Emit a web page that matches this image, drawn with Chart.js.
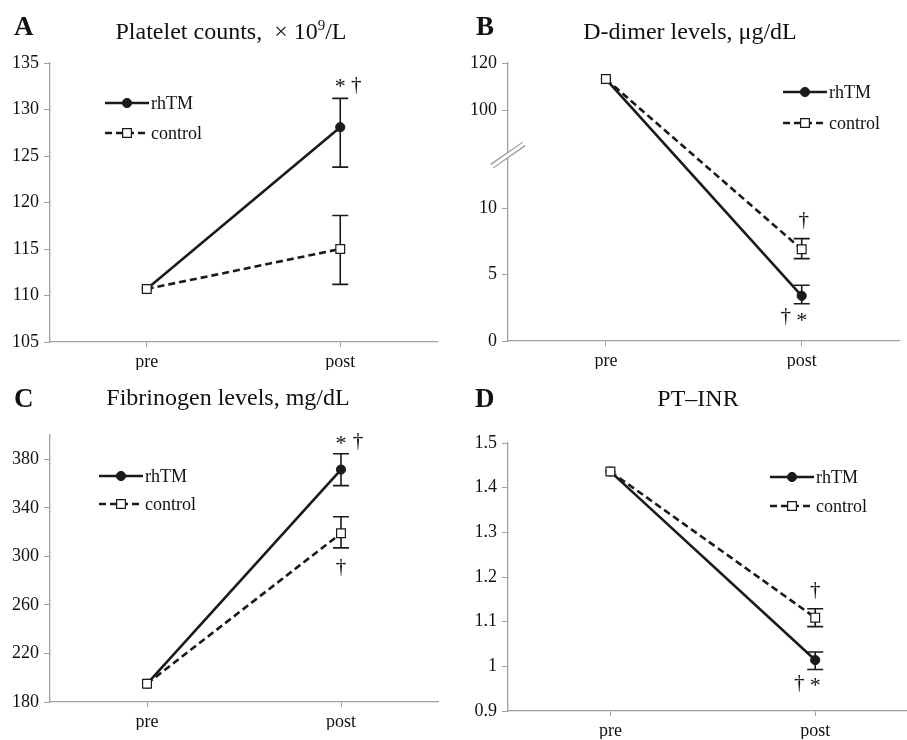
<!DOCTYPE html>
<html>
<head>
<meta charset="utf-8">
<script src="https://cdn.jsdelivr.net/npm/chart.js@4.4.1/dist/chart.umd.min.js"></script>
<style>
  body { margin: 0; background: #fff; width: 907px; height: 740px; overflow: hidden; position: relative; }
  .panel { position: absolute; }
</style>
</head>
<body>
<div class="panel" style="left:0;top:0;width:453px;height:370px"><canvas id="chartA"></canvas></div>
<div class="panel" style="left:455px;top:0;width:452px;height:370px"><canvas id="chartB"></canvas></div>
<div class="panel" style="left:0;top:370px;width:453px;height:370px"><canvas id="chartC"></canvas></div>
<div class="panel" style="left:455px;top:370px;width:470px;height:370px"><canvas id="chartD"></canvas></div>
<script>
// ---- data ----
const periods = ['pre', 'post'];
const groupNames = ['rhTM', 'control'];

// A: platelet counts, x10^9/L
const plateletRhtm = [110.7, 128.1];
const plateletRhtmLow = [null, 123.8];
const plateletRhtmHigh = [null, 131.2];
const plateletControl = [110.7, 115.0];
const plateletControlLow = [null, 111.2];
const plateletControlHigh = [null, 118.6];
const plateletTicks = [105, 110, 115, 120, 125, 130, 135];

// B: D-dimer, ug/dL (broken axis)
const ddimerRhtm = [113.2, 3.4];
const ddimerRhtmLow = [null, 2.8];
const ddimerRhtmHigh = [null, 4.2];
const ddimerControl = [113.2, 6.9];
const ddimerControlLow = [null, 6.2];
const ddimerControlHigh = [null, 7.7];
const ddimerTicks = [0, 5, 10, 100, 120];

// C: fibrinogen, mg/dL
const fibRhtm = [195, 371.5];
const fibRhtmLow = [null, 358.3];
const fibRhtmHigh = [null, 384.6];
const fibControl = [195, 319];
const fibControlLow = [null, 307];
const fibControlHigh = [null, 332.6];
const fibTicks = [180, 220, 260, 300, 340, 380];
const fibAxisMax = 400;

// D: PT-INR
const inrRhtm = [1.436, 1.014];
const inrRhtmLow = [null, 0.993];
const inrRhtmHigh = [null, 1.032];
const inrControl = [1.436, 1.109];
const inrControlLow = [null, 1.089];
const inrControlHigh = [null, 1.129];
const inrTicks = [0.9, 1.0, 1.1, 1.2, 1.3, 1.4, 1.5];

// ---- broken y axis for the D-dimer panel ----
const ddimerBreak = { low: 14, high: 81, ratio: 0.1774 };
function toBroken(v) {
  return v <= ddimerBreak.low ? v : ddimerBreak.low + (v - ddimerBreak.high) * ddimerBreak.ratio;
}
function fromBroken(t) {
  return t <= ddimerBreak.low ? t : ddimerBreak.high + (t - ddimerBreak.low) / ddimerBreak.ratio;
}
class BrokenLinearScale extends Chart.LinearScale {
  getPixelForValue(value) {
    if (value === null || value === undefined || isNaN(value)) return NaN;
    const a = toBroken(this.min), b = toBroken(this.max);
    return this.getPixelForDecimal((toBroken(value) - a) / (b - a));
  }
  getValueForPixel(pixel) {
    const a = toBroken(this.min), b = toBroken(this.max);
    return fromBroken(a + this.getDecimalForPixel(pixel) * (b - a));
  }
}
BrokenLinearScale.id = 'brokenLinear';
BrokenLinearScale.defaults = {};
Chart.register(BrokenLinearScale);

const SERIF = '"Liberation Serif", "Times New Roman", serif';
const INK = '#1a1a1a';
const AXIS = '#a0a0a0';

// error bars under the points
const errorBars = {
  id: 'errorBars',
  beforeDatasetsDraw(chart) {
    const ctx = chart.ctx;
    const ys = chart.scales.y;
    ctx.save();
    ctx.strokeStyle = INK;
    ctx.lineWidth = 1.6;
    chart.data.datasets.forEach((ds, di) => {
      const meta = chart.getDatasetMeta(di);
      meta.data.forEach((pt, i) => {
        const lo = ds.errLow[i], hi = ds.errHigh[i];
        if (lo == null || hi == null) return;
        const y1 = ys.getPixelForValue(lo), y2 = ys.getPixelForValue(hi);
        ctx.beginPath();
        ctx.moveTo(pt.x, y1); ctx.lineTo(pt.x, y2);
        ctx.moveTo(pt.x - 8, y1); ctx.lineTo(pt.x + 8, y1);
        ctx.moveTo(pt.x - 8, y2); ctx.lineTo(pt.x + 8, y2);
        ctx.stroke();
      });
    });
    ctx.restore();
  }
};

function legendMark(ctx, ds, x, y) {
  ctx.save();
  ctx.strokeStyle = INK;
  ctx.lineWidth = ds.borderWidth;
  ctx.setLineDash(ds.borderDash || []);
  ctx.beginPath(); ctx.moveTo(x, y); ctx.lineTo(x + 44, y); ctx.stroke();
  ctx.setLineDash([]);
  ctx.lineWidth = ds.pointBorderWidth;
  ctx.fillStyle = ds.pointBackgroundColor;
  ctx.beginPath();
  if (ds.pointStyle === 'rect') {
    const s = ds.pointRadius * Math.SQRT1_2;
    ctx.rect(x + 22 - s, y - s, 2 * s, 2 * s);
  } else {
    ctx.arc(x + 22, y, ds.pointRadius, 0, Math.PI * 2);
  }
  ctx.fill(); ctx.stroke();
  ctx.restore();
}

function makePanel(p) {
  const datasets = [
    {
      label: groupNames[0], data: p.rhtm, errLow: p.rhtmLow, errHigh: p.rhtmHigh,
      borderColor: INK, borderWidth: 2.6, pointStyle: 'circle', pointRadius: 4.6,
      pointBackgroundColor: INK, pointBorderColor: INK, pointBorderWidth: 1, order: 1
    },
    {
      label: groupNames[1], data: p.ctrl, errLow: p.ctrlLow, errHigh: p.ctrlHigh,
      borderColor: INK, borderWidth: 2.6, borderDash: [7, 4], pointStyle: 'rect', pointRadius: 6.2,
      pointBackgroundColor: '#fff', pointBorderColor: INK, pointBorderWidth: 1.2, order: 0
    }
  ];

  const decor = {
    id: 'decor',
    afterDraw(chart) {
      const ctx = chart.ctx;
      ctx.save();
      ctx.fillStyle = '#111';
      ctx.textBaseline = 'middle';
      // panel letter
      ctx.font = 'bold 27px ' + SERIF;
      ctx.textAlign = 'left';
      ctx.fillText(p.letter, p.letterPos[0], p.letterPos[1]);
      // title, with optional superscript piece
      const big = '24px ' + SERIF, small = '15px ' + SERIF;
      let total = 0;
      p.title.forEach(part => { ctx.font = part.sup ? small : big; total += ctx.measureText(part.t).width; });
      let tx = p.titlePos[0] - total / 2;
      p.title.forEach(part => {
        ctx.font = part.sup ? small : big;
        ctx.fillText(part.t, tx, p.titlePos[1] + (part.sup ? -7 : 0));
        tx += ctx.measureText(part.t).width;
      });
      // legend
      ctx.font = '18px ' + SERIF;
      chart.data.datasets.forEach((ds, i) => {
        const ly = p.legendPos[1 + i];
        legendMark(ctx, ds, p.legendPos[0], ly);
        ctx.fillStyle = '#111';
        ctx.fillText(ds.label, p.legendPos[0] + 46, ly + 1);
      });
      // significance marks
      const ys = chart.scales.y;
      p.notes.forEach(n => {
        const ds = chart.data.datasets[n.ds];
        const pt = chart.getDatasetMeta(n.ds).data[1];
        const v = n.at === 'high' ? ds.errHigh[1] : ds.errLow[1];
        ctx.font = (n.t === '*' ? '22px ' : '21px ') + SERIF;
        ctx.textAlign = 'center';
        ctx.fillText(n.t, pt.x + n.dx, ys.getPixelForValue(v) + n.dy);
      });
      // axis break marks
      if (p.broken) {
        const bx = chart.scales.y.right;
        const by = ys.getPixelForValue(ddimerBreak.low);
        ctx.lineCap = 'butt';
        ctx.strokeStyle = '#9a9a9a'; ctx.lineWidth = 5.5;
        ctx.beginPath(); ctx.moveTo(bx - 16, by + 11); ctx.lineTo(bx + 16, by - 11); ctx.stroke();
        ctx.strokeStyle = '#fff'; ctx.lineWidth = 3;
        ctx.beginPath(); ctx.moveTo(bx - 17, by + 12); ctx.lineTo(bx + 17, by - 12); ctx.stroke();
      }
      ctx.restore();
    }
  };

  return new Chart(document.getElementById(p.canvas), {
    type: 'line',
    data: { labels: periods, datasets: datasets },
    options: {
      responsive: true,
      maintainAspectRatio: false,
      animation: false,
      layout: { padding: p.pad },
      plugins: { legend: { display: false }, tooltip: { enabled: false }, title: { display: false } },
      scales: {
        x: {
          offset: true,
          afterFit: axis => { axis.height = 28; },
          border: { color: AXIS, width: 1.3 },
          grid: { display: true, drawOnChartArea: false, drawTicks: true, tickLength: 5, color: AXIS, offset: false },
          ticks: { color: '#111', font: { family: SERIF, size: 18 }, padding: 4 }
        },
        y: {
          type: p.broken ? 'brokenLinear' : 'linear',
          min: p.yMin,
          max: p.yMax,
          afterBuildTicks: axis => { axis.ticks = p.ticks.map(v => ({ value: v })); },
          afterFit: axis => { axis.width = p.yWidth; },
          border: { color: AXIS, width: 1.3 },
          grid: { display: true, drawOnChartArea: false, drawTicks: true, tickLength: 6, color: AXIS },
          ticks: {
            color: '#111', font: { family: SERIF, size: 18 }, padding: 5,
            callback: v => String(+Number(v).toFixed(2))
          }
        }
      }
    },
    plugins: [errorBars, decor]
  });
}

makePanel({
  canvas: 'chartA', letter: 'A', letterPos: [14, 28],
  title: [{ t: 'Platelet counts,  \u00d7 10' }, { t: '9', sup: true }, { t: '/L' }], titlePos: [231, 33],
  rhtm: plateletRhtm, rhtmLow: plateletRhtmLow, rhtmHigh: plateletRhtmHigh,
  ctrl: plateletControl, ctrlLow: plateletControlLow, ctrlHigh: plateletControlHigh,
  ticks: plateletTicks, yMin: plateletTicks[0], yMax: plateletTicks[plateletTicks.length - 1],
  yWidth: 50, pad: { left: 0, top: 63, right: 16, bottom: 0 },
  legendPos: [105, 103, 133],
  notes: [
    { t: '*', ds: 0, at: 'high', dx: 0, dy: -11 },
    { t: '\u2020', ds: 0, at: 'high', dx: 16, dy: -13 }
  ]
});

makePanel({
  canvas: 'chartB', letter: 'B', letterPos: [21, 28],
  title: [{ t: 'D-dimer levels, \u03bcg/dL' }], titlePos: [235, 33],
  rhtm: ddimerRhtm, rhtmLow: ddimerRhtmLow, rhtmHigh: ddimerRhtmHigh,
  ctrl: ddimerControl, ctrlLow: ddimerControlLow, ctrlHigh: ddimerControlHigh,
  ticks: ddimerTicks, yMin: ddimerTicks[0], yMax: ddimerTicks[ddimerTicks.length - 1], broken: true,
  yWidth: 53, pad: { left: 0, top: 63, right: 7, bottom: 1 },
  legendPos: [328, 92, 123],
  notes: [
    { t: '\u2020', ds: 1, at: 'high', dx: 2, dy: -18 },
    { t: '\u2020', ds: 0, at: 'low', dx: -16, dy: 13 },
    { t: '*', ds: 0, at: 'low', dx: 0, dy: 17 }
  ]
});

makePanel({
  canvas: 'chartC', letter: 'C', letterPos: [14, 30],
  title: [{ t: 'Fibrinogen levels, mg/dL' }], titlePos: [228, 29],
  rhtm: fibRhtm, rhtmLow: fibRhtmLow, rhtmHigh: fibRhtmHigh,
  ctrl: fibControl, ctrlLow: fibControlLow, ctrlHigh: fibControlHigh,
  ticks: fibTicks, yMin: fibTicks[0], yMax: fibAxisMax,
  yWidth: 50, pad: { left: 0, top: 65, right: 15, bottom: 10 },
  legendPos: [99, 106, 134],
  notes: [
    { t: '*', ds: 0, at: 'high', dx: 0, dy: -9 },
    { t: '\u2020', ds: 0, at: 'high', dx: 17, dy: -12 },
    { t: '\u2020', ds: 1, at: 'low', dx: 0, dy: 20 }
  ]
});

makePanel({
  canvas: 'chartD', letter: 'D', letterPos: [20, 30],
  title: [{ t: 'PT\u2013INR' }], titlePos: [243, 30],
  rhtm: inrRhtm, rhtmLow: inrRhtmLow, rhtmHigh: inrRhtmHigh,
  ctrl: inrControl, ctrlLow: inrControlLow, ctrlHigh: inrControlHigh,
  ticks: inrTicks, yMin: inrTicks[0], yMax: inrTicks[inrTicks.length - 1],
  yWidth: 53, pad: { left: 0, top: 73, right: 7, bottom: 1 },
  legendPos: [315, 107, 136],
  notes: [
    { t: '\u2020', ds: 1, at: 'high', dx: 0, dy: -18 },
    { t: '\u2020', ds: 0, at: 'low', dx: -16, dy: 14 },
    { t: '*', ds: 0, at: 'low', dx: 0, dy: 17 }
  ]
});
</script>
</body>
</html>
